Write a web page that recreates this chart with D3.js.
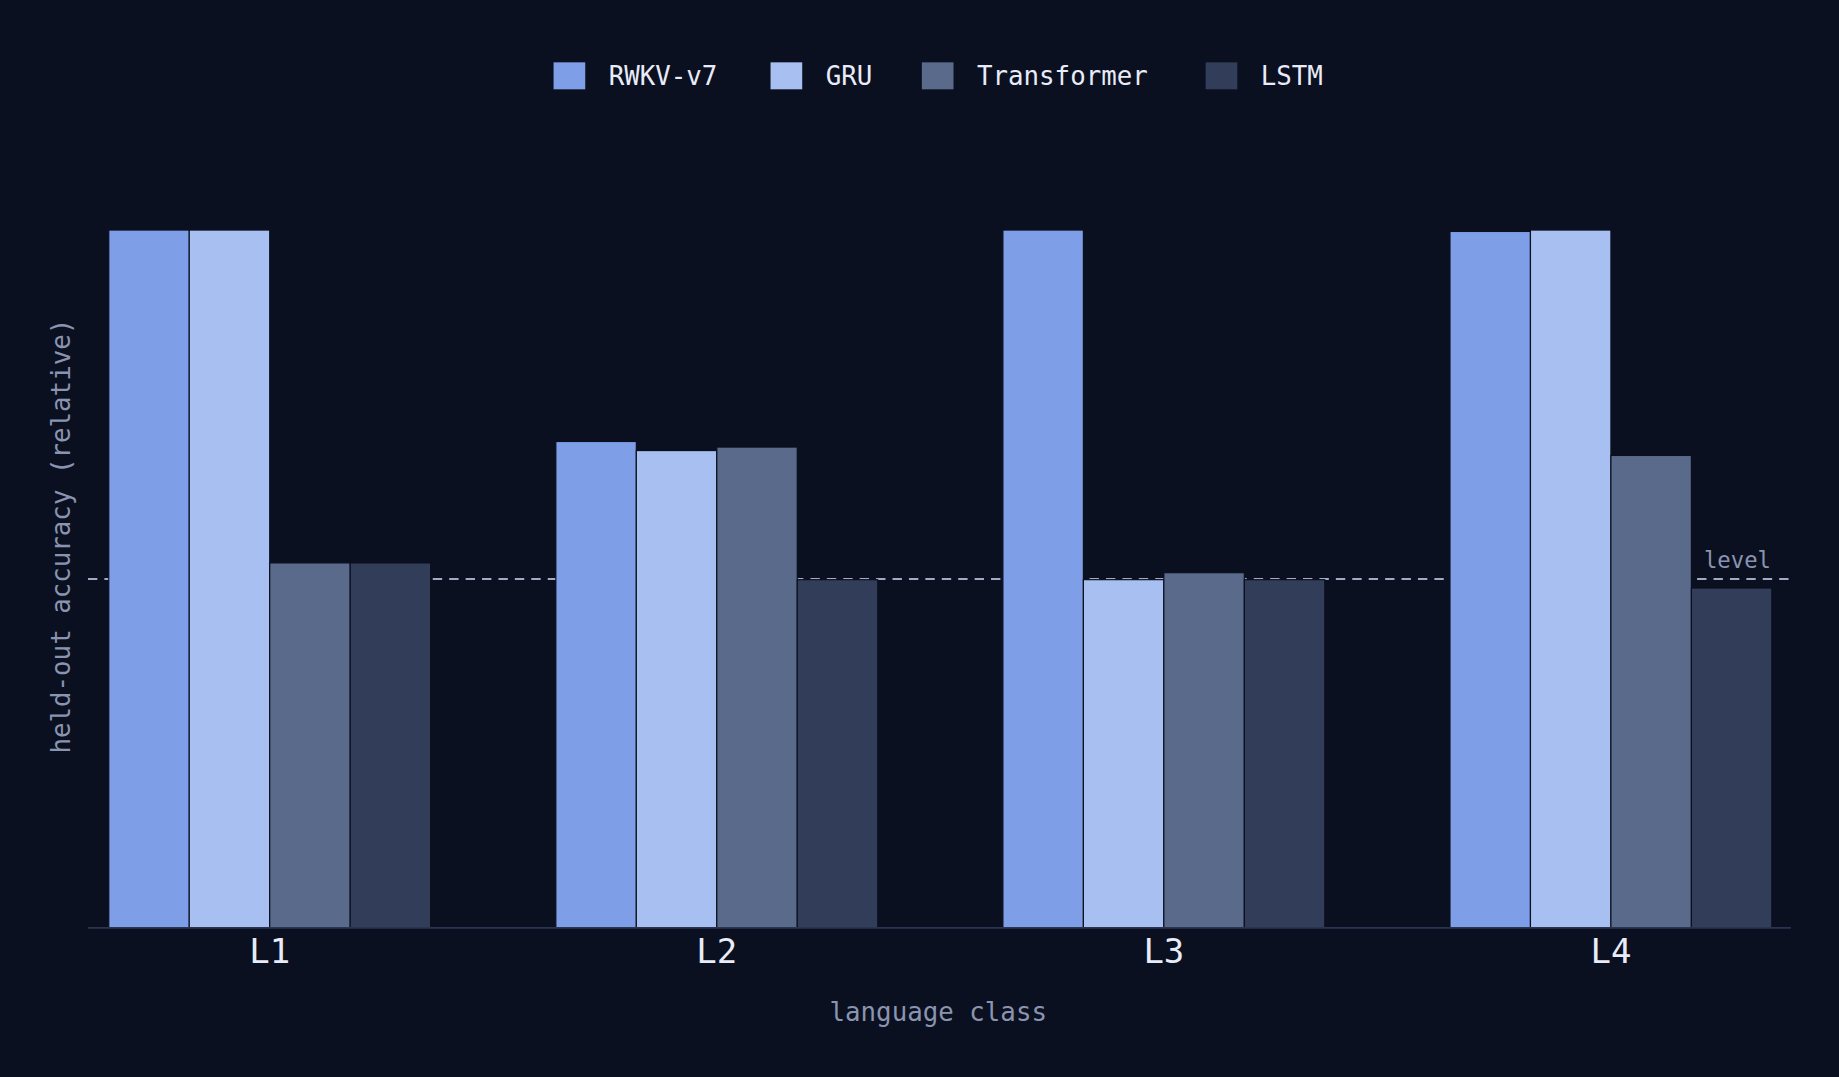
<!DOCTYPE html>
<html><head><meta charset="utf-8">
<script src="https://cdn.jsdelivr.net/npm/d3@7/dist/d3.min.js"></script>
<style>html,body{margin:0;background:#0b1020;}</style>
</head><body>
<script>
const categories = ["L1","L2","L3","L4"];
const seriesNames = ["RWKV-v7","GRU","Transformer","LSTM"];
const colors = ["#7f9ee8","#a8bff2","#5a6a8a","#323d5a"];
const values = {
  "RWKV-v7":     [1.0, 0.697, 1.0, 0.998],
  "GRU":         [1.0, 0.684, 0.499, 1.0],
  "Transformer": [0.523, 0.689, 0.509, 0.677],
  "LSTM":        [0.523, 0.499, 0.499, 0.487]
};
const chance = 0.5;

const W = 1568, H = 918;
const svg = d3.select("body").append("svg")
  .attr("width", 1839).attr("height", 1077)
  .attr("viewBox", `0 0 ${W} ${H}`)
  .style("display","block").style("background","#0b1020");
const font = "DejaVu Sans Mono, monospace";

const x0 = d3.scaleBand().domain(categories).range([92.75, 1510.75]).paddingInner(0.28);
const x1 = d3.scaleBand().domain(seriesNames).range([0, x0.bandwidth()]);
const y = d3.scaleLinear().domain([0, 1]).range([791, 196]);

// chance line (behind bars)
svg.append("line").attr("x1",75).attr("x2",1527)
  .attr("y1",y(chance)).attr("y2",y(chance))
  .attr("stroke","#a3abc4").attr("stroke-width",1.6).attr("stroke-dasharray","8,6");
svg.append("text").attr("x",1510).attr("y",y(chance)-9).attr("text-anchor","end")
  .attr("fill","#8a94b0").attr("font-family",font).attr("font-size",19).text("chance level");

const g = svg.append("g");
categories.forEach((c, ci) => {
  seriesNames.forEach((s, si) => {
    g.append("rect")
      .attr("x", x0(c) + x1(s)).attr("width", x1.bandwidth())
      .attr("y", y(values[s][ci])).attr("height", y(0) - y(values[s][ci]))
      .attr("fill", colors[si]).attr("stroke","#0b1020").attr("stroke-width",1);
  });
});

// x axis
const xa = svg.append("g").attr("transform","translate(0,791)")
  .call(d3.axisBottom(x0).tickSize(0).tickPadding(9));
xa.select(".domain").remove();
svg.append("line").attr("x1",75).attr("x2",1527).attr("y1",791).attr("y2",791)
  .attr("stroke","#2a3350").attr("stroke-width",1.5);
xa.selectAll("text").attr("fill","#e8ecf8").attr("font-family",font).attr("font-size",29);

svg.append("text").attr("x",800).attr("y",870).attr("text-anchor","middle")
  .attr("fill","#8a94b0").attr("font-family",font).attr("font-size",22).text("language class");
svg.append("text").attr("transform","translate(60,457) rotate(-90)").attr("text-anchor","middle")
  .attr("fill","#8a94b0").attr("font-family",font).attr("font-size",22).text("held-out accuracy (relative)");

// legend
const legX = [472, 657, 786, 1028];
seriesNames.forEach((s, i) => {
  svg.append("rect").attr("x",legX[i]).attr("y",53).attr("width",27).attr("height",23).attr("fill",colors[i]);
  svg.append("text").attr("x",legX[i]+47).attr("y",72).attr("fill","#e8ecf8")
    .attr("font-family",font).attr("font-size",22).text(s);
});
</script>
</body></html>
